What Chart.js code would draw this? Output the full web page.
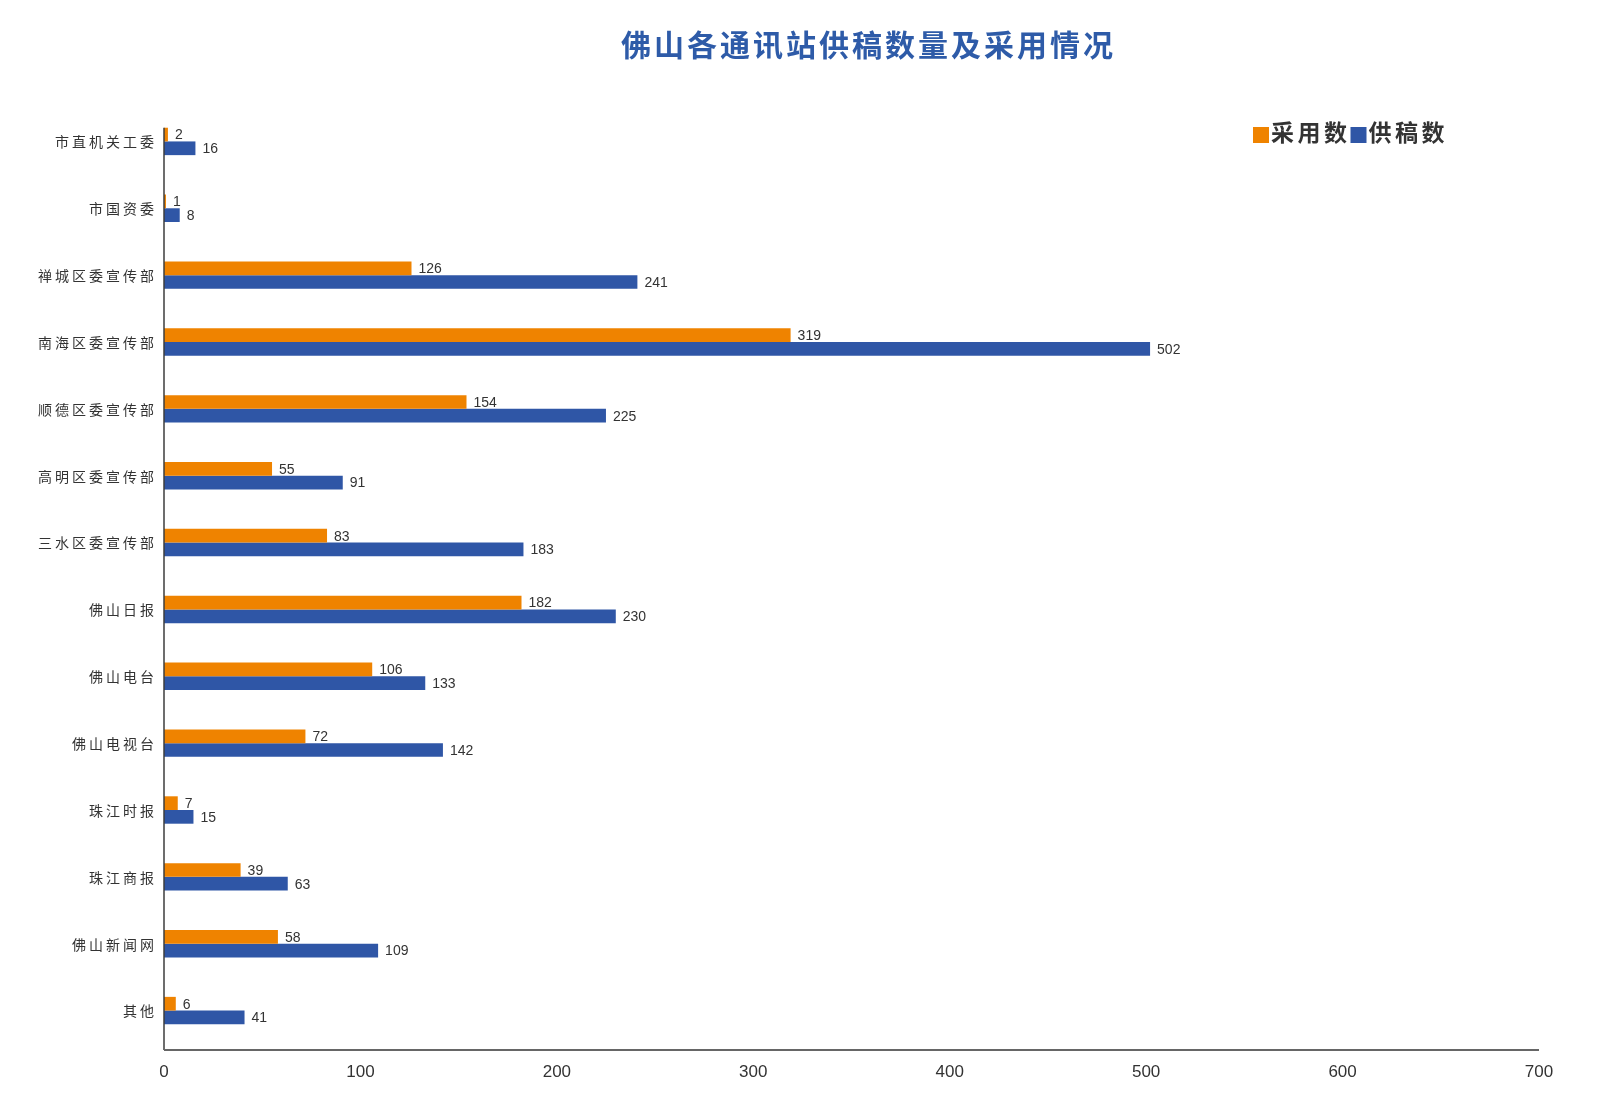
<!DOCTYPE html>
<html>
<head>
<meta charset="utf-8">
<script src="https://cdn.jsdelivr.net/npm/chart.js@4.4.1/dist/chart.umd.min.js"></script>
<style>
  html, body { margin: 0; padding: 0; background: #ffffff; }
  #wrap { width: 1600px; height: 1114px; position: relative; }
</style>
</head>
<body>
<div id="wrap"><canvas id="feedChart"></canvas></div>
<script>
const stations = ["市直机关工委", "市国资委", "禅城区委宣传部", "南海区委宣传部", "顺德区委宣传部", "高明区委宣传部", "三水区委宣传部", "佛山日报", "佛山电台", "佛山电视台", "珠江时报", "珠江商报", "佛山新闻网", "其他"];
const adopted = [2, 1, 126, 319, 154, 55, 83, 182, 106, 72, 7, 39, 58, 6];
const submitted = [16, 8, 241, 502, 225, 91, 183, 230, 133, 142, 15, 63, 109, 41];
const xTicks = [0, 100, 200, 300, 400, 500, 600, 700];
const titleText = "佛山各通讯站供稿数量及采用情况";

const orange = "#ef8300";
const blue = "#2f56a6";
const cjk = '"Liberation Sans", "Noto Sans CJK SC", sans-serif';

// letter spacing per axis (Chart.js has no option for it)
const tickSpacing = {
  id: "tickSpacing",
  afterLayout(chart) {
    [["x", "0px"], ["y", "3px"]].forEach(([id, sp]) => {
      const s = chart.scales[id];
      if (!s || s._spaced) return;
      const orig = s.drawLabels;
      s.drawLabels = function (area) {
        const prev = this.ctx.letterSpacing;
        this.ctx.letterSpacing = sp;
        orig.call(this, area);
        this.ctx.letterSpacing = prev;
      };
      s._spaced = true;
    });
  }
};

// axis lines: x line sits a little under the last band, y line starts at first bar
const axisLines = {
  id: "axisLines",
  afterDatasetsDraw(chart) {
    const ctx = chart.ctx;
    const area = chart.chartArea;
    const first = chart.getDatasetMeta(0).data[0];
    const baseY = area.bottom + 6;
    ctx.save();
    ctx.strokeStyle = "#3c3c3c";
    ctx.lineWidth = 1.5;
    ctx.beginPath();
    ctx.moveTo(area.left, first.y - first.height / 2);
    ctx.lineTo(area.left, baseY);
    ctx.stroke();
    ctx.strokeStyle = "#666";
    ctx.lineWidth = 2;
    ctx.beginPath();
    ctx.moveTo(area.left, baseY);
    ctx.lineTo(area.right, baseY);
    ctx.stroke();
    ctx.restore();
  }
};

// values at the end of each bar
const valueLabels = {
  id: "valueLabels",
  afterDatasetsDraw(chart) {
    const ctx = chart.ctx;
    ctx.save();
    ctx.font = "14px " + cjk;
    ctx.fillStyle = "#333";
    ctx.textAlign = "left";
    ctx.textBaseline = "middle";
    chart.data.datasets.forEach((ds, i) => {
      chart.getDatasetMeta(i).data.forEach((bar, j) => {
        ctx.fillText(ds.data[j], bar.x + 7, bar.y + 1);
      });
    });
    ctx.restore();
  }
};

// title and legend drawn by hand so spacing can be matched
const header = {
  id: "header",
  afterDraw(chart) {
    const ctx = chart.ctx;
    const area = chart.chartArea;
    ctx.save();
    ctx.letterSpacing = "3px";
    ctx.font = "bold 30px " + cjk;
    ctx.fillStyle = "#2e5ba8";
    ctx.textAlign = "center";
    ctx.textBaseline = "middle";
    ctx.fillText(titleText, (area.left + area.right) / 2 + 17, 48);

    // legend
    ctx.letterSpacing = "3.5px";
    ctx.font = "bold 23px " + cjk;
    ctx.textAlign = "left";
    const box = 16;
    let x = area.right - 286;
    const y = 135;
    chart.data.datasets.forEach(ds => {
      ctx.fillStyle = ds.backgroundColor;
      ctx.fillRect(x, y - box / 2, box, box);
      x += box + 2;
      ctx.fillStyle = "#333";
      ctx.fillText(ds.label, x, y);
      x += ctx.measureText(ds.label).width;
    });
    ctx.restore();
  }
};

new Chart(document.getElementById("feedChart"), {
  type: "bar",
  data: {
    labels: stations,
    datasets: [
      {
        label: "采用数",
        data: adopted,
        backgroundColor: orange,
        categoryPercentage: 0.41,
        barPercentage: 1.0
      },
      {
        label: "供稿数",
        data: submitted,
        backgroundColor: blue,
        categoryPercentage: 0.41,
        barPercentage: 1.0
      }
    ]
  },
  options: {
    indexAxis: "y",
    responsive: true,
    maintainAspectRatio: false,
    animation: false,
    layout: {
      padding: { top: 108, right: 61, bottom: 0, left: 0 }
    },
    plugins: {
      legend: { display: false },
      title: { display: false },
      tooltip: { enabled: false }
    },
    scales: {
      x: {
        min: 0,
        max: 700,
        afterBuildTicks(scale) {
          scale.ticks = xTicks.map(v => ({ value: v }));
        },
        afterFit(scale) {
          scale.height = 70;
        },
        grid: { display: false, drawTicks: false },
        border: { display: false },
        ticks: {
          color: "#333",
          padding: 18,
          font: { size: 17, family: cjk }
        }
      },
      y: {
        afterFit(scale) {
          scale.width = 164;
        },
        grid: { display: false, drawTicks: false },
        border: { display: false },
        ticks: {
          color: "#333",
          padding: 7,
          labelOffset: 2,
          font: { size: 14, family: cjk }
        }
      }
    }
  },
  plugins: [tickSpacing, axisLines, valueLabels, header]
});
</script>
</body>
</html>
